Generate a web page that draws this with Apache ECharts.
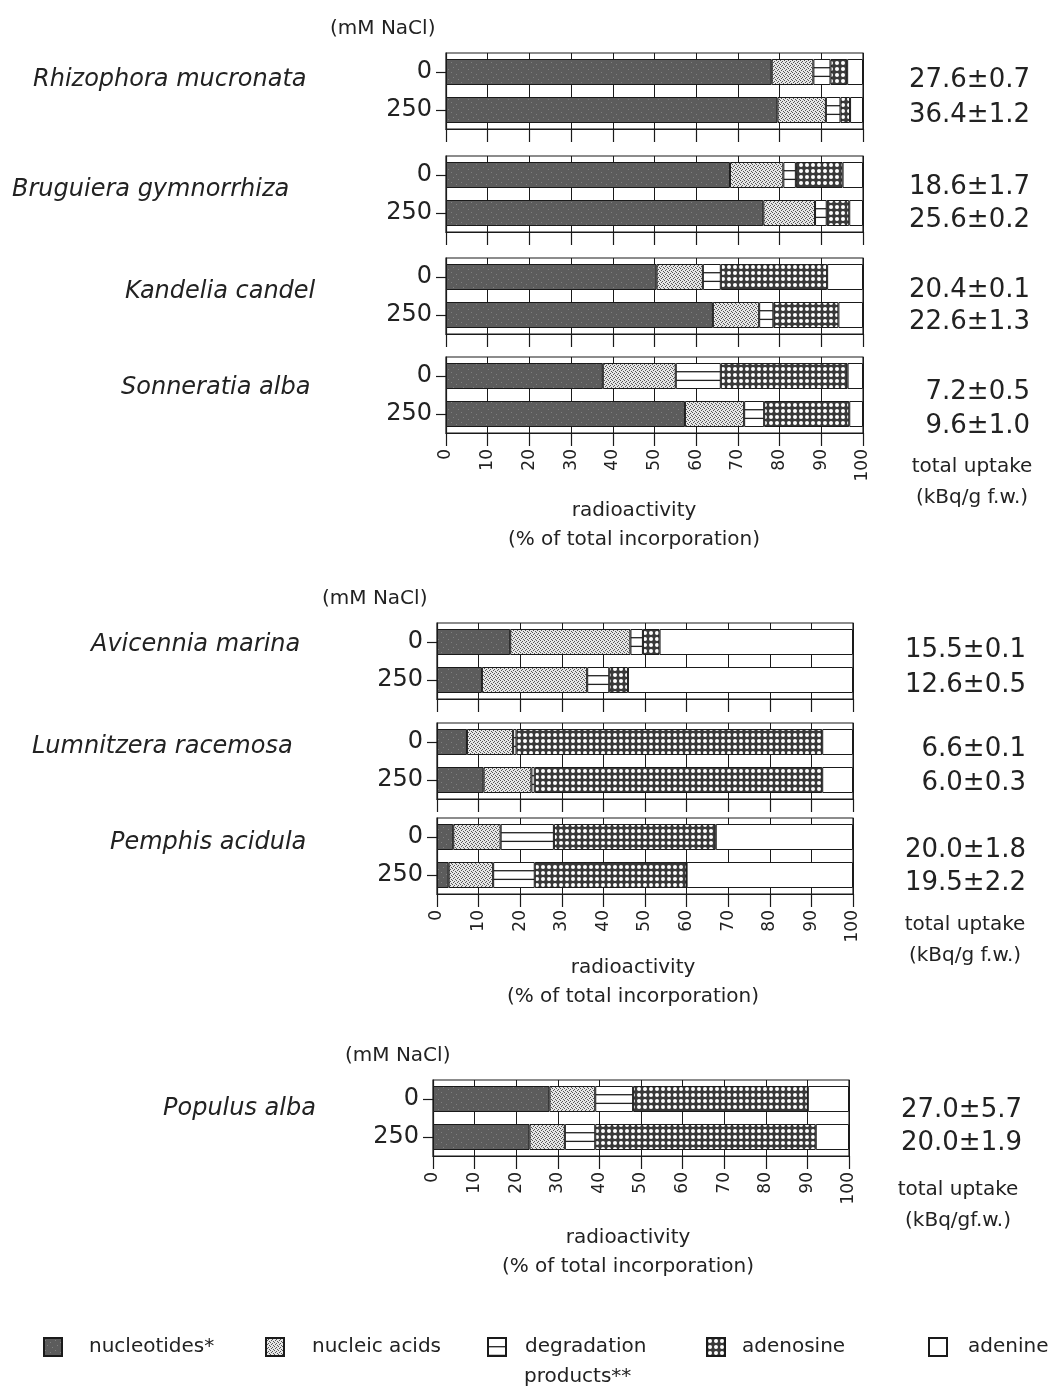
<!DOCTYPE html>
<html>
<head>
<meta charset="utf-8">
<script src="https://cdn.jsdelivr.net/npm/echarts@6/dist/echarts.min.js"></script>
<style>
  html, body { margin: 0; background: #fff; }
  #chart { width: 1058px; height: 1390px; }
</style>
</head>
<body>
<div id="chart"></div>
<script>
// species, two salt levels each (0 and 250 mM NaCl)
const species = ['Rhizophora mucronata', 'Bruguiera gymnorrhiza', 'Kandelia candel', 'Sonneratia alba',
  'Avicennia marina', 'Lumnitzera racemosa', 'Pemphis acidula', 'Populus alba'];
const saltLevels = ['0', '250'];

// % of total incorporation, pairs per species: [0 mM, 250 mM]
const nucleotides  = [78.1, 79.5, 68.1, 76.1, 50.5, 64.0, 37.6, 57.3, 17.6, 10.8, 7.2, 11.2, 3.9, 2.8, 28.0, 23.2];
const nucleicAcids = [10.0, 11.6, 12.8, 12.4, 11.1, 11.1, 17.5, 14.2, 28.9, 25.3, 11.1, 11.5, 11.4, 10.7, 11.0, 8.5];
const degradation  = [4.1, 3.5, 3.0, 2.8, 4.3, 3.4, 10.8, 4.8, 3.0, 5.3, 0.8, 0.8, 12.8, 10.0, 9.1, 7.3];
const adenosine    = [4.0, 2.3, 11.2, 5.4, 25.5, 15.6, 30.4, 20.4, 4.0, 4.5, 73.5, 69.1, 38.9, 36.5, 42.0, 53.0];
const adenine      = [3.8, 3.1, 4.9, 3.3, 8.6, 5.9, 3.7, 3.3, 46.5, 54.1, 7.4, 7.4, 33.0, 40.0, 9.9, 8.0];

// total uptake (kBq/g f.w.)
const uptake = ['27.6±0.7', '36.4±1.2', '18.6±1.7', '25.6±0.2', '20.4±0.1', '22.6±1.3', '7.2±0.5', '9.6±1.0',
  '15.5±0.1', '12.6±0.5', '6.6±0.1', '6.0±0.3', '20.0±1.8', '19.5±2.2', '27.0±5.7', '20.0±1.9'];
const uptakeUnit = ['(kBq/g f.w.)', '(kBq/g f.w.)', '(kBq/gf.w.)'];

const xMin = 0, xMax = 100, xStep = 10;
const seriesNames = ['nucleotides*', 'nucleic acids', 'degradation products**', 'adenosine', 'adenine'];
const legendLabels = ['nucleotides*', 'nucleic acids', 'degradation', 'adenosine', 'adenine'];

// layout
const FONT = '"DejaVu Sans"';
const panelOf = [0, 0, 0, 0, 1, 1, 1, 2];
const panelLeft = [446, 437, 433];
const panelWidth = [417, 416, 416];
const gridTop = [53, 156, 258, 357, 623, 723, 818, 1080];
const gridH = 76;
const barW = 26;
const labelledGrids = [3, 6, 7];
const nameX = [33, 12, 125, 121, 91, 32, 110, 163];
const nameY = [80, 190, 292, 388, 645, 747, 843, 1109];
const uptakeY = [80, 115, 187, 220, 290, 322, 392, 426, 650, 685, 749, 783, 850, 883, 1110, 1143];
const uptakeRight = [1030, 1026, 1022];
const unitX = [972, 965, 958];
const unitY = [467, 925, 1190];
const saltTitle = [[330, 29], [322, 599], [345, 1056]];
const axisTitleX = [634, 633, 628];
const axisTitleY = [511, 968, 1238];
const legendX = [43, 265, 487, 706, 928];
const legendPad = [22, 23, 14, 12, 16];

function makeTile(w, h, draw) {
  const c = document.createElement('canvas');
  c.width = w;
  c.height = h;
  draw(c.getContext('2d'), w, h);
  return c;
}

const nucleotideTile = makeTile(10, 10, (ctx, w, h) => {
  ctx.fillStyle = '#5c5c5c';
  ctx.fillRect(0, 0, w, h);
  ctx.fillStyle = '#808080';
  [[1, 2], [6, 4], [3, 7], [8, 9]].forEach(([x, y]) => ctx.fillRect(x, y, 1, 1));
});
const nucleicTile = makeTile(4, 4, (ctx, w, h) => {
  ctx.fillStyle = '#e6e6e6';
  ctx.fillRect(0, 0, w, h);
  ctx.fillStyle = '#555';
  [[0, 0], [2, 1], [1, 2], [3, 3]].forEach(([x, y]) => ctx.fillRect(x, y, 1, 1));
});
const degradationTile = makeTile(8, barW, (ctx, w, h) => {
  ctx.fillStyle = '#fff';
  ctx.fillRect(0, 0, w, h);
  ctx.fillStyle = '#222';
  ctx.fillRect(0, h / 3 - 0.6, w, 1.3);
  ctx.fillRect(0, 2 * h / 3 - 0.6, w, 1.3);
});
const adenosineTile = makeTile(6, 6, (ctx, w, h) => {
  ctx.fillStyle = '#3a3a3a';
  ctx.fillRect(0, 0, w, h);
  ctx.fillStyle = '#fff';
  ctx.beginPath();
  ctx.arc(3, 3, 2.0, 0, Math.PI * 2);
  ctx.fill();
});

const fills = [
  { image: nucleotideTile, repeat: 'repeat' },
  { image: nucleicTile, repeat: 'repeat' },
  { image: degradationTile, repeat: 'repeat' },
  { image: adenosineTile, repeat: 'repeat' },
  '#ffffff'
];
const components = [nucleotides, nucleicAcids, degradation, adenosine, adenine];

function barTop(g, j) {
  return gridTop[g] + gridH * (2 * j + 1) / 4 - barW / 2;
}

const grids = species.map((s, g) => ({
  left: panelLeft[panelOf[g]],
  top: gridTop[g],
  width: panelWidth[panelOf[g]],
  height: gridH,
  show: true,
  backgroundColor: 'transparent',
  borderColor: '#1a1a1a',
  borderWidth: 1.2,
  outerBoundsMode: 'none'
}));

const xAxes = species.map((s, g) => ({
  gridIndex: g,
  type: 'value',
  min: xMin,
  max: xMax,
  interval: xStep,
  axisLine: { show: true, lineStyle: { color: '#1a1a1a', width: 1.2 } },
  axisTick: { show: true, length: 13, lineStyle: { color: '#1a1a1a', width: 1.2 } },
  splitLine: { show: true, lineStyle: { color: '#1a1a1a', width: 1 } },
  axisLabel: {
    show: labelledGrids.includes(g),
    rotate: 90,
    margin: 16,
    fontSize: 17,
    fontFamily: FONT,
    color: '#222'
  }
}));

const yAxes = species.map((s, g) => ({
  gridIndex: g,
  type: 'category',
  data: saltLevels,
  inverse: true,
  axisLine: { show: true, lineStyle: { color: '#1a1a1a', width: 1.2 } },
  axisTick: { show: true, alignWithLabel: true, length: 10, lineStyle: { color: '#1a1a1a', width: 1.2 } },
  splitLine: { show: false },
  axisLabel: { fontSize: 24, margin: 14, fontFamily: FONT, color: '#222' }
}));

const series = [];
species.forEach((s, g) => {
  components.forEach((vals, k) => {
    series.push({
      type: 'bar',
      name: seriesNames[k],
      stack: 'g' + g,
      xAxisIndex: g,
      yAxisIndex: g,
      barWidth: barW,
      silent: true,
      itemStyle: { color: fills[k], borderColor: '#1a1a1a', borderWidth: 1 },
      data: saltLevels.map((lvl, j) => {
        const v = vals[2 * g + j];
        // keep the stripes of the degradation pattern centred in each bar
        if (k === 2) {
          return { value: v, itemStyle: { color: { image: degradationTile, repeat: 'repeat', x: 0, y: barTop(g, j) } } };
        }
        return v;
      })
    });
  });
});

const legends = seriesNames.map((name, k) => ({
  data: [name],
  left: legendX[k],
  top: 1337,
  padding: 0,
  icon: 'rect',
  itemWidth: 18,
  itemHeight: 18,
  selectedMode: false,
  formatter: () => legendLabels[k],
  textStyle: {
    fontSize: 20,
    fontFamily: FONT,
    color: '#222',
    padding: [0, 0, 0, legendPad[k]]
  }
}));

function text(x, y, str, font, align) {
  return {
    type: 'text',
    x: x,
    y: y,
    silent: true,
    style: {
      text: str,
      font: font,
      fill: '#222',
      align: align || 'left',
      textAlign: align || 'left',
      verticalAlign: 'middle',
      textVerticalAlign: 'middle'
    }
  };
}

const graphics = [];
species.forEach((s, g) => {
  graphics.push(text(nameX[g], nameY[g], s, 'italic 24px ' + FONT));
  const p = panelOf[g];
  saltLevels.forEach((lvl, j) => {
    graphics.push(text(uptakeRight[p], uptakeY[2 * g + j], uptake[2 * g + j], '26px ' + FONT, 'right'));
  });
});
[0, 1, 2].forEach(p => {
  graphics.push(text(saltTitle[p][0], saltTitle[p][1], '(mM NaCl)', '20px ' + FONT));
  graphics.push(text(unitX[p], unitY[p], 'total uptake', '20px ' + FONT, 'center'));
  graphics.push(text(unitX[p], unitY[p] + 31, uptakeUnit[p], '20px ' + FONT, 'center'));
  graphics.push(text(axisTitleX[p], axisTitleY[p], 'radioactivity', '20px ' + FONT, 'center'));
  graphics.push(text(axisTitleX[p], axisTitleY[p] + 29, '(% of total incorporation)', '20px ' + FONT, 'center'));
});
// second line of the degradation legend entry
graphics.push(text(legendX[2] + 18 + 5 + legendPad[2], 1377, 'products**', '20px ' + FONT));

const chart = echarts.init(document.getElementById('chart'), null, { renderer: 'canvas' });
chart.setOption({
  animation: false,
  backgroundColor: '#fff',
  textStyle: { fontFamily: FONT },
  tooltip: { show: false },
  grid: grids,
  xAxis: xAxes,
  yAxis: yAxes,
  legend: legends,
  series: series,
  graphic: graphics
});
</script>
</body>
</html>
